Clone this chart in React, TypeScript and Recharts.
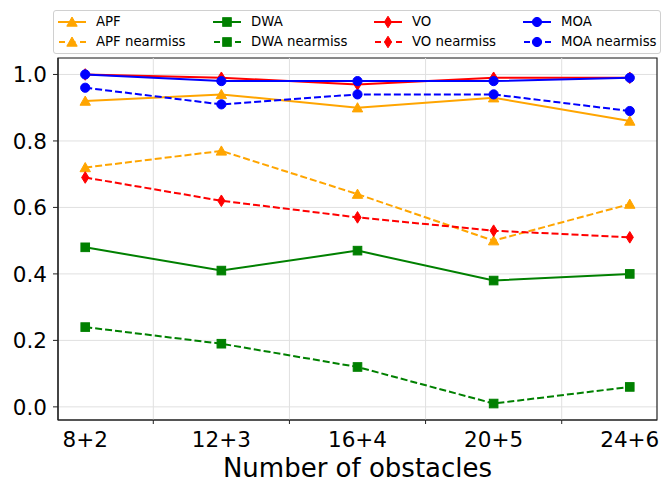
import React from "react";
import {
  LineChart,
  Line,
  XAxis,
  YAxis,
  CartesianGrid,
  ReferenceLine,
  ReferenceArea,
  Label,
} from "recharts";

const categories = ["8+2", "12+3", "16+4", "20+5", "24+6"];

const apf = [0.92, 0.94, 0.9, 0.93, 0.86];
const apfNearmiss = [0.72, 0.77, 0.64, 0.5, 0.61];
const dwa = [0.48, 0.41, 0.47, 0.38, 0.4];
const dwaNearmiss = [0.24, 0.19, 0.12, 0.01, 0.06];
const vo = [1.0, 0.99, 0.97, 0.99, 0.99];
const voNearmiss = [0.69, 0.62, 0.57, 0.53, 0.51];
const moa = [1.0, 0.98, 0.98, 0.98, 0.99];
const moaNearmiss = [0.96, 0.91, 0.94, 0.94, 0.89];

const yTicks = [0, 0.2, 0.4, 0.6, 0.8, 1.0];

// 5% padding around the data range, like matplotlib's autoscale
const X_DOMAIN: [number, number] = [-0.2, 4.2];
const Y_DOMAIN: [number, number] = [-0.0395, 1.0495];

const FONT = "'DejaVu Sans', sans-serif";
const TICK_FONT = 21.5;

type Marker = "triangle" | "square" | "diamond" | "circle";

const series: {
  key: string;
  name: string;
  values: number[];
  color: string;
  dashed: boolean;
  marker: Marker;
}[] = [
  { key: "apf", name: "APF", values: apf, color: "#FFA500", dashed: false, marker: "triangle" },
  { key: "apfN", name: "APF nearmiss", values: apfNearmiss, color: "#FFA500", dashed: true, marker: "triangle" },
  { key: "dwa", name: "DWA", values: dwa, color: "#008000", dashed: false, marker: "square" },
  { key: "dwaN", name: "DWA nearmiss", values: dwaNearmiss, color: "#008000", dashed: true, marker: "square" },
  { key: "vo", name: "VO", values: vo, color: "#FF0000", dashed: false, marker: "diamond" },
  { key: "voN", name: "VO nearmiss", values: voNearmiss, color: "#FF0000", dashed: true, marker: "diamond" },
  { key: "moa", name: "MOA", values: moa, color: "#0000FF", dashed: false, marker: "circle" },
  { key: "moaN", name: "MOA nearmiss", values: moaNearmiss, color: "#0000FF", dashed: true, marker: "circle" },
];

const data = categories.map((label, i) => {
  const row: Record<string, number | string> = { x: i, label };
  series.forEach((s) => {
    row[s.key] = s.values[i];
  });
  return row;
});

// major ticks sit on the categories, minor ticks + vertical grid halfway between
const xTicks = [0, 0.5, 1, 1.5, 2, 2.5, 3, 3.5, 4];
const halfTicks = xTicks.filter((t) => !Number.isInteger(t));

const DASH = "7 3";

function MarkerShape({ marker, color, cx, cy }: { marker: Marker; color: string; cx: number; cy: number }) {
  switch (marker) {
    case "triangle":
      return (
        <polygon
          points={`${cx},${cy - 5} ${cx - 5.2},${cy + 4.2} ${cx + 5.2},${cy + 4.2}`}
          fill={color}
          stroke={color}
          strokeWidth={1}
        />
      );
    case "square":
      return <rect x={cx - 4.3} y={cy - 4.3} width={8.6} height={8.6} fill={color} stroke={color} strokeWidth={1} />;
    case "diamond":
      return (
        <polygon
          points={`${cx},${cy - 5.8} ${cx + 3.6},${cy} ${cx},${cy + 5.8} ${cx - 3.6},${cy}`}
          fill={color}
          stroke={color}
          strokeWidth={1}
        />
      );
    default:
      return <circle cx={cx} cy={cy} r={4.6} fill={color} stroke={color} strokeWidth={1} />;
  }
}

const makeDot = (marker: Marker, color: string) => (props: any) => {
  const { cx, cy, index } = props;
  if (cx == null || cy == null) return <g key={`d-${index}`} />;
  return (
    <g key={`d-${index}`}>
      <MarkerShape marker={marker} color={color} cx={cx} cy={cy} />
    </g>
  );
};

const XTick = (props: any) => {
  const { x, y, payload } = props;
  const v = payload.value as number;
  if (!Number.isInteger(v)) {
    return <line x1={x} x2={x} y1={y} y2={y + 4} stroke="#222" strokeWidth={1} />;
  }
  return (
    <text x={x} y={y + 27} textAnchor="middle" fontSize={TICK_FONT} fontFamily={FONT} fill="#000">
      {categories[v]}
    </text>
  );
};

const legendCols = [57, 212, 373, 522];
const legendRows = [21, 41];

function LegendBox() {
  return (
    <div
      style={{
        position: "absolute",
        left: 53,
        top: 10,
        width: 606,
        height: 42,
        border: "1px solid #d0d0d0",
        borderRadius: 3,
        background: "#fff",
      }}
    >
      {series.map((s, i) => {
        const col = Math.floor(i / 2);
        const row = i % 2;
        const left = legendCols[col] - 53;
        const top = legendRows[row] - 10 - 8;
        return (
          <div key={s.key} style={{ position: "absolute", left, top, height: 16, whiteSpace: "nowrap" }}>
            <svg width={30} height={16} style={{ position: "absolute", left: 0, top: 0 }}>
              <line
                x1={0}
                x2={28}
                y1={8}
                y2={8}
                stroke={s.color}
                strokeWidth={2}
                strokeDasharray={s.dashed ? "6 4.5" : undefined}
                strokeDashoffset={s.dashed ? -1 : undefined}
              />
              <MarkerShape marker={s.marker} color={s.color} cx={14} cy={8} />
            </svg>
            <span
              style={{
                position: "absolute",
                left: 38,
                top: 0,
                lineHeight: "16px",
                fontSize: 13.3,
                fontFamily: FONT,
                color: "#000",
              }}
            >
              {s.name}
            </span>
          </div>
        );
      })}
    </div>
  );
}

export default function App() {
  return (
    <div style={{ position: "absolute", left: 0, top: 0, width: 661, height: 483, background: "#fff" }}>
      <LineChart width={661} height={483} data={data} margin={{ top: 58, right: 4, bottom: 0, left: 0 }}>
        <CartesianGrid vertical={false} stroke="#e0e0e0" strokeWidth={1} />
        {halfTicks.map((t) => (
          <ReferenceLine key={t} x={t} stroke="#e0e0e0" strokeWidth={1} />
        ))}
        <XAxis
          dataKey="x"
          type="number"
          domain={X_DOMAIN}
          ticks={xTicks}
          interval={0}
          allowDataOverflow
          height={63}
          tickSize={0}
          tickMargin={0}
          tickLine={false}
          tick={<XTick />}
          axisLine={{ stroke: "#222", strokeWidth: 1.2 }}
        >
          <Label
            value="Number of obstacles"
            position="insideBottom"
            offset={6}
            style={{ fontSize: 26, fontFamily: FONT, fill: "#000" }}
          />
        </XAxis>
        <YAxis
          type="number"
          domain={Y_DOMAIN}
          ticks={yTicks}
          interval={0}
          allowDataOverflow
          width={58}
          tickSize={5}
          tickMargin={6}
          tickFormatter={(v: number) => v.toFixed(1)}
          tick={{ fontSize: TICK_FONT, fontFamily: FONT, fill: "#000" }}
          tickLine={{ stroke: "#222" }}
          axisLine={{ stroke: "#222", strokeWidth: 1.2 }}
        />
        <ReferenceArea
          x1={X_DOMAIN[0]}
          x2={X_DOMAIN[1]}
          y1={Y_DOMAIN[0]}
          y2={Y_DOMAIN[1]}
          fill="none"
          stroke="#222"
          strokeWidth={1.2}
          ifOverflow="visible"
        />
        {series.map((s) => (
          <Line
            key={s.key}
            dataKey={s.key}
            name={s.name}
            type="linear"
            stroke={s.color}
            strokeWidth={2}
            strokeDasharray={s.dashed ? DASH : undefined}
            dot={makeDot(s.marker, s.color)}
            activeDot={false}
            isAnimationActive={false}
          />
        ))}
      </LineChart>
      <LegendBox />
    </div>
  );
}
